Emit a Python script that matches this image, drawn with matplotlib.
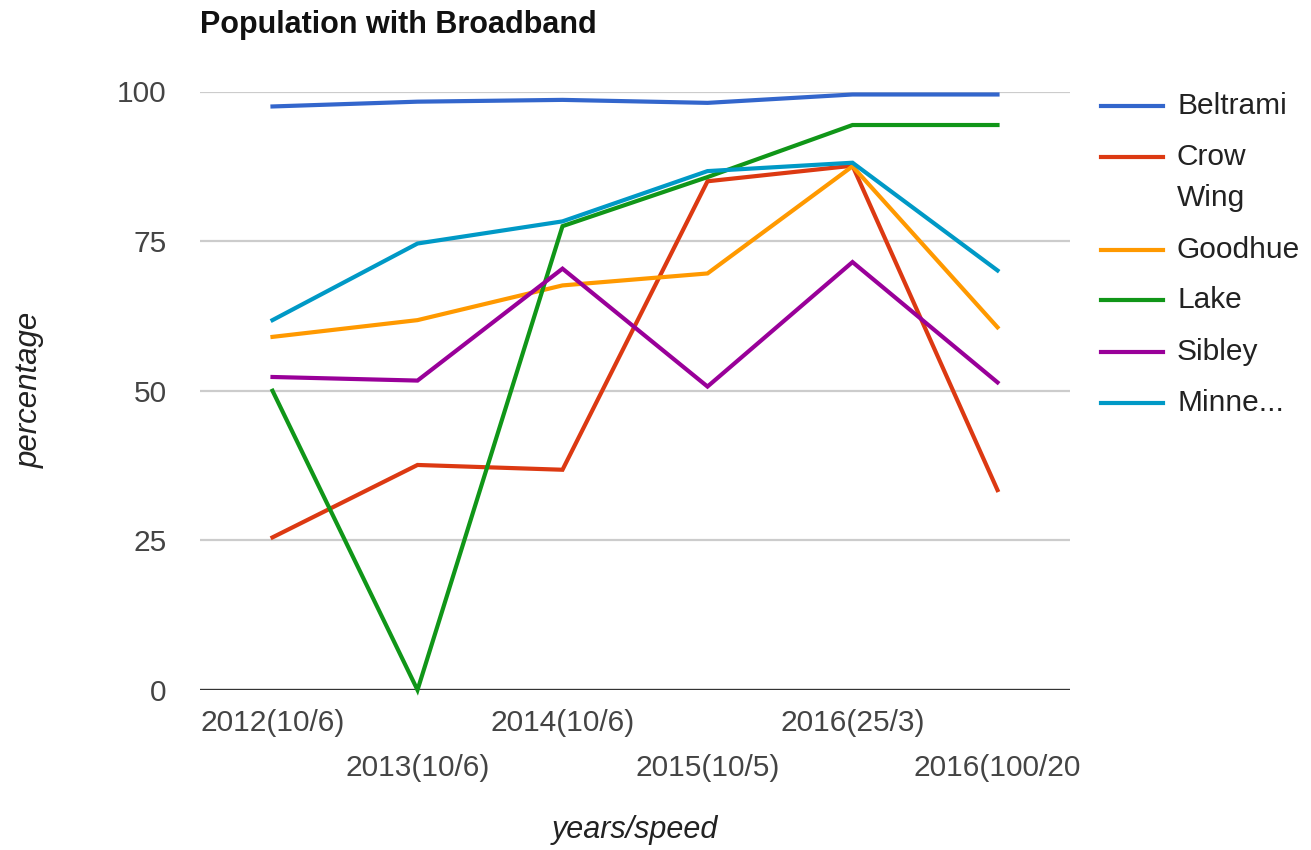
import matplotlib
matplotlib.use("Agg")
import matplotlib.pyplot as plt
from matplotlib.lines import Line2D

plt.rcParams['font.family'] = ['Liberation Sans', 'DejaVu Sans']

categories = ["2012(10/6)", "2013(10/6)", "2014(10/6)", "2015(10/5)", "2016(25/3)", "2016(100/20"]
series_names = ["Beltrami", "Crow Wing", "Goodhue", "Lake", "Sibley", "Minnesota"]
legend_labels = ["Beltrami", "Crow\nWing", "Goodhue", "Lake", "Sibley", "Minne..."]

beltrami = [97.5, 98.3, 98.6, 98.1, 99.5, 99.5]
crow_wing = [25.5, 37.6, 36.8, 85.0, 87.6, 33.4]
goodhue = [59.0, 61.8, 67.6, 69.6, 87.5, 60.6]
lake = [50.0, 0.0, 77.5, 85.7, 94.4, 94.4]
sibley = [52.3, 51.7, 70.4, 50.7, 71.5, 51.4]
minnesota = [61.8, 74.6, 78.3, 86.7, 88.1, 70.1]

y_ticks = [0, 25, 50, 75, 100]

series = [beltrami, crow_wing, goodhue, lake, sibley, minnesota]
colors = ["#3366cc", "#dc3912", "#ff9900", "#109618", "#990099", "#0099c6"]

W, H = 1311, 850
fig = plt.figure(figsize=(W / 100, H / 100), dpi=100)
left, right, bottom, top = 200 / W, 1070 / W, (H - 690) / H, (H - 91.5) / H
ax = fig.add_axes([left, bottom, right - left, top - bottom])

x = list(range(len(categories)))
for vals, c, name in zip(series, colors, series_names):
    ax.plot(x, vals, color=c, lw=3.0, label=name, clip_on=False, zorder=3,
            solid_joinstyle='miter')

ax.set_xlim(-0.5, len(categories) - 0.5)
ax.set_ylim(0, 100)
ax.set_yticks(y_ticks)
ax.set_yticklabels([str(v) for v in y_ticks])
for v in y_ticks[1:]:
    ax.axhline(v, color="#cccccc", lw=1.6, zorder=1)
ax.axhline(0, color="#333333", lw=2.4, zorder=2)

for s in ax.spines.values():
    s.set_visible(False)

ax.tick_params(axis='y', length=0, pad=24, labelsize=21.5, labelcolor="#444444")
ax.tick_params(axis='x', length=0, pad=14, labelsize=21.5, labelcolor="#444444")
ax.set_xticks(x)
ax.set_xticklabels(categories)
for i, t in enumerate(ax.xaxis.get_major_ticks()):
    if i % 2 == 1:
        t.set_pad(14 + 45 * 0.72)

ax.set_xlabel("years/speed", fontsize=22, style='italic', color="#222222", labelpad=0)
ax.xaxis.set_label_coords((635 - 200) / 870, -(815 - 690) / 598.5)
ax.set_ylabel("percentage", fontsize=22.5, style='italic', color="#222222")
ax.yaxis.set_label_coords(-(200 - 45) / 870, (690 - 390) / 598.5)

fig.text(200 / W, 1 - 33 / H, "Population with Broadband", fontsize=22,
         fontweight='bold', color="#111111", ha='left', va='baseline')

# legend
legend_y = [106, 157, 250, 300, 352, 403]
line_gap = 41
for lab, c, yy in zip(legend_labels, colors, legend_y):
    fy = 1 - yy / H
    fig.add_artist(Line2D([1101 / W, 1163 / W], [fy, fy], color=c, lw=3.0,
                          transform=fig.transFigure))
    for k, part in enumerate(lab.split("\n")):
        fig.text(1177 / W, 1 - (yy + k * line_gap) / H, part, fontsize=21.5,
                 color="#222222", ha='left', va='center')

fig.savefig("out.png", dpi=100, facecolor="white")
